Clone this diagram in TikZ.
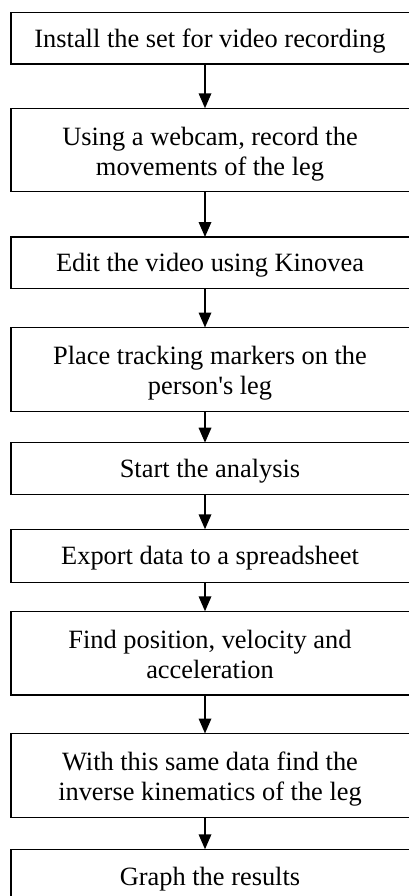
\documentclass[tikz,border=0pt]{standalone}
\usepackage{fontspec}
\setmainfont{Liberation Serif}[Ligatures=TeXOff]
\usetikzlibrary{arrows.meta}
\newcommand\lnstrut{\rule[-6pt]{0pt}{24pt}}
\begin{document}
\begin{tikzpicture}[x=1pt,y=-1pt,
  box/.style={draw, line width=1.5pt, inner sep=0pt, outer sep=0pt, minimum width=399.5pt},
  txt/.style={align=center, inner sep=0pt, outer sep=0pt, font=\fontsize{26.4}{30}\selectfont},
  arr/.style={line width=1.8pt, -{Triangle[length=15pt,width=12.5pt]}}]
\useasboundingbox (0,0) rectangle (409,896);
\coordinate (ax) at (205,0);
% boxes
\node[box, minimum height=51.3pt] (b1) at (210.75,38.35) {};
\node[box, minimum height=83.4pt] (b2) at (210.75,150) {};
\node[box, minimum height=51.3pt] (b3) at (210.75,262.65) {};
\node[box, minimum height=84pt]   (b4) at (210.75,369.5) {};
\node[box, minimum height=51.6pt] (b5) at (210.75,468.5) {};
\node[box, minimum height=53.4pt] (b6) at (210.75,556) {};
\node[box, minimum height=83.7pt] (b7) at (210.75,653.15) {};
\node[box, minimum height=83.8pt] (b8) at (210.75,775.4) {};
\node[box, minimum height=54.7pt] (b9) at (210.75,876.65) {};
% texts
\node[txt] (t1) at ([xshift=-0.75pt,yshift=-2.4pt]b1.center) {\lnstrut Install the set for video recording};
\node[txt] (t2) at ([xshift=-0.75pt,yshift=-4pt]b2.center) {\lnstrut Using a webcam, record the\\\lnstrut movements of the leg};
\node[txt] (t3) at ([xshift=-0.75pt,yshift=-2.4pt]b3.center) {\lnstrut Edit the video using Kinovea};
\node[txt] (t4) at ([xshift=-0.75pt,yshift=-4pt]b4.center) {\lnstrut Place tracking markers on the\\\lnstrut person's leg};
\node[txt] (t5) at ([xshift=-0.75pt,yshift=-2.4pt]b5.center) {\lnstrut Start the analysis};
\node[txt] (t6) at ([xshift=-0.75pt,yshift=-2.4pt]b6.center) {\lnstrut Export data to a spreadsheet};
\node[txt] (t7) at ([xshift=-0.75pt,yshift=-4pt]b7.center) {\lnstrut Find position, velocity and\\\lnstrut acceleration};
\node[txt] (t8) at ([xshift=-0.75pt,yshift=-4pt]b8.center) {\lnstrut With this same data find the\\\lnstrut inverse kinematics of the leg};
\node[txt] (t9) at ([xshift=-0.75pt,yshift=-2.4pt]b9.center) {\lnstrut Graph the results};
% arrows
\draw[arr] (b1.south -| ax) -- (b2.north -| ax);
\draw[arr] (b2.south -| ax) -- (b3.north -| ax);
\draw[arr] (b3.south -| ax) -- (b4.north -| ax);
\draw[arr] (b4.south -| ax) -- (b5.north -| ax);
\draw[arr] (b5.south -| ax) -- (b6.north -| ax);
\draw[arr] (b6.south -| ax) -- (b7.north -| ax);
\draw[arr] (b7.south -| ax) -- (b8.north -| ax);
\draw[arr] (b8.south -| ax) -- (b9.north -| ax);
\end{tikzpicture}
\end{document}
